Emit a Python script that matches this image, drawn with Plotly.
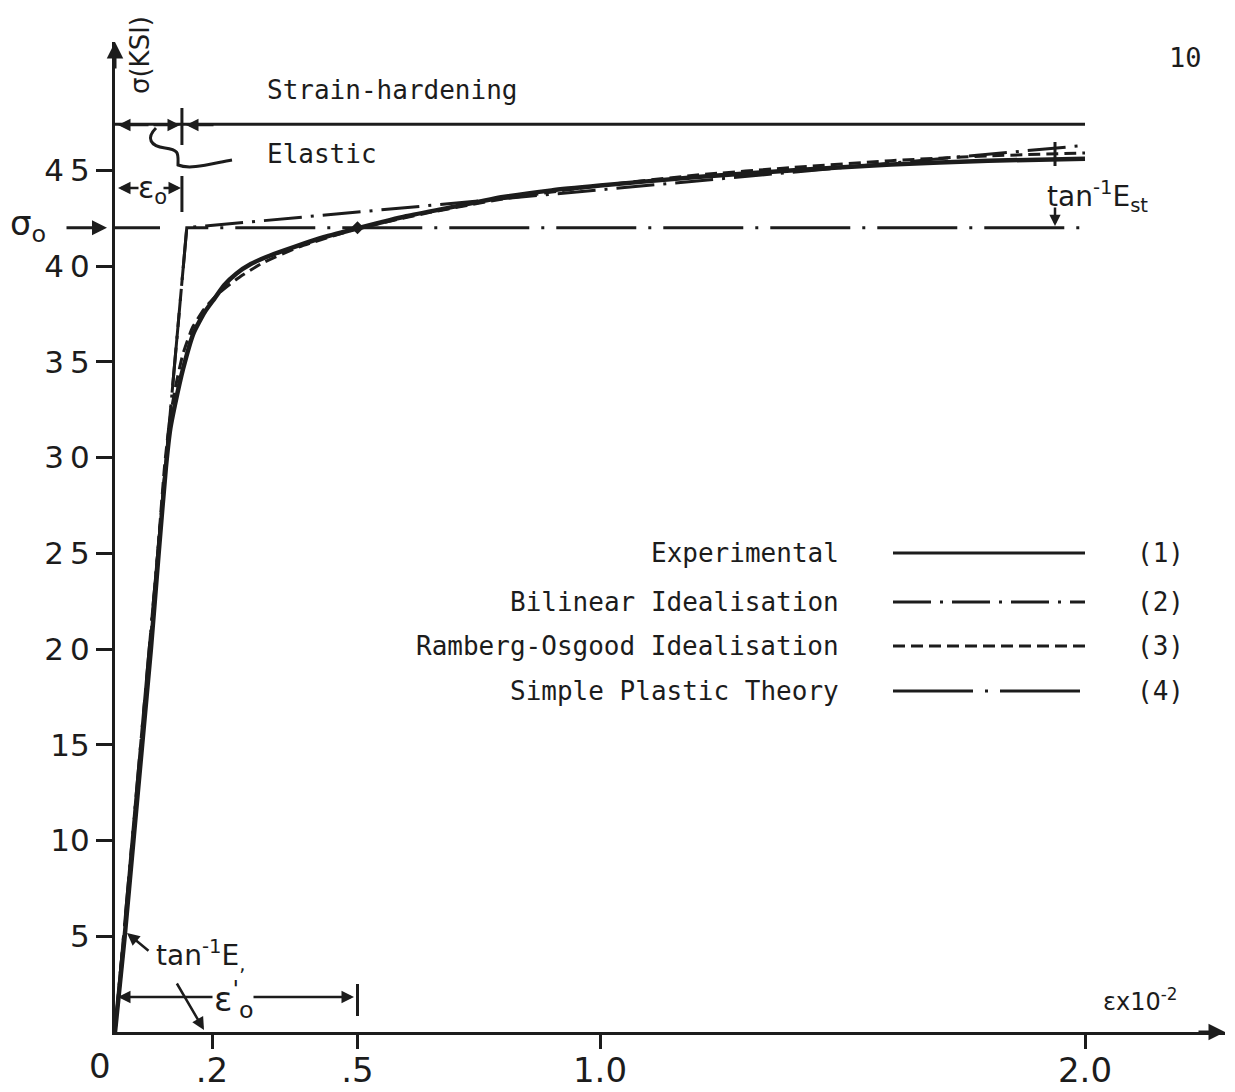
import plotly.graph_objects as go

# Stress-strain data: strain in units of 1e-2, stress in ksi
EPS_EXP = [0.000, 0.020, 0.038, 0.056, 0.074, 0.090, 0.105, 0.114, 0.124, 0.140,
           0.162, 0.185, 0.205, 0.225, 0.250, 0.280, 0.320, 0.370, 0.430, 0.505,
           0.600, 0.700, 0.800, 0.900, 1.000, 1.200, 1.400, 1.600, 1.800, 2.000]
SIG_EXP = [0.0, 5.0, 10.0, 15.0, 20.0, 25.0, 29.5, 31.5, 32.8, 34.6,
           36.5, 37.6, 38.3, 39.0, 39.6, 40.1, 40.55, 41.0, 41.5, 42.0,
           42.6, 43.1, 43.6, 43.95, 44.2, 44.65, 45.0, 45.3, 45.5, 45.6]

EPS_RO = [0.000, 0.020, 0.037, 0.055, 0.072, 0.088, 0.102, 0.112, 0.124, 0.140,
          0.160, 0.185, 0.215, 0.250, 0.300, 0.380, 0.500, 0.650, 0.800, 1.000,
          1.200, 1.400, 1.600, 1.800, 2.000]
SIG_RO = [0.0, 5.0, 10.0, 15.0, 20.0, 25.0, 29.5, 31.8, 33.6, 35.4,
          36.8, 37.8, 38.6, 39.3, 40.1, 41.0, 41.95, 42.8, 43.5, 44.2,
          44.75, 45.15, 45.5, 45.75, 45.9]

EPS_BI = [0.0, 0.148, 2.0]
SIG_BI = [0.0, 42.0, 46.3]

EPS_SP = [0.0, 0.148, 2.0]
SIG_SP = [0.0, 42.0, 42.0]

SIGMA0 = 42.0        # yield stress
EPS0 = 0.148         # yield strain
EPS0_PRIME = 0.5     # offset strain
SIG_LIMIT = 47.4     # strain-hardening level line
EPS_MAX = 2.0

Y_TICKS = [5, 10, 15, 20, 25, 30, 35, 40, 45]
Y_TICKTEXT = ["5", "10", "15", "2\u20090", "2\u20095", "3\u20090", "3\u20095", "4\u20090", "4\u20095"]
X_TICKS = [0.2, 0.5, 1.0, 2.0]
X_TICKTEXT = [".2", ".5", "1.0", "2.0"]

LEGEND_NAMES = ["Experimental", "Bilinear Idealisation",
                "Ramberg-Osgood Idealisation", "Simple Plastic Theory"]
LEGEND_TAGS = ["(1)", "(2)", "(3)", "(4)"]

INK = "#1c1c1c"
MONO = "DejaVu Sans Mono"
HAND = "DejaVu Sans"

W, H = 1235, 1092
ML, MR, MT, MB = 115, 10, 42, 60
XSCALE = 485.0   # px per unit strain
YSCALE = 19.15   # px per ksi
X_MAX = (W - ML - MR) / XSCALE
Y_MAX = (H - MT - MB) / YSCALE
PW, PH = W - ML - MR, H - MT - MB


def dx(p):
    return (p - ML) / XSCALE


def dy(p):
    return (H - MB - p) / YSCALE


def paper_x(p):
    return (p - ML) / PW


def paper_y(p):
    return (H - MB - p) / PH


DASH_BI = "38px,9px,3px,9px"
DASH_RO = "12px,6px"
DASH_SP = "80px,12px,3px,12px"

fig = go.Figure()

fig.add_trace(go.Scatter(x=EPS_SP, y=SIG_SP, mode="lines",
                         line=dict(color=INK, width=3, dash=DASH_SP), name=LEGEND_NAMES[3]))
fig.add_trace(go.Scatter(x=EPS_BI, y=SIG_BI, mode="lines",
                         line=dict(color=INK, width=3, dash=DASH_BI), name=LEGEND_NAMES[1]))
fig.add_trace(go.Scatter(x=EPS_RO, y=SIG_RO, mode="lines",
                         line=dict(color=INK, width=3, dash=DASH_RO, shape="spline", smoothing=0.5),
                         name=LEGEND_NAMES[2]))
fig.add_trace(go.Scatter(x=EPS_EXP, y=SIG_EXP, mode="lines",
                         line=dict(color=INK, width=4.5, shape="spline", smoothing=0.5),
                         name=LEGEND_NAMES[0]))
fig.add_trace(go.Scatter(x=[EPS0_PRIME], y=[SIGMA0], mode="markers",
                         marker=dict(symbol="diamond", size=10, color=INK), showlegend=False))

shapes = []
annotations = []


def seg(x0, y0, x1, y1, width=3, dash=None):
    line = dict(color=INK, width=width)
    if dash:
        line["dash"] = dash
    shapes.append(dict(type="line", xref="x", yref="y",
                       x0=x0, y0=y0, x1=x1, y1=y1, line=line))


def arrow(tip_px, tail_px, width=2.5, size=1.0):
    annotations.append(dict(x=dx(tip_px[0]), y=dy(tip_px[1]), xref="x", yref="y",
                            ax=tail_px[0] - tip_px[0], ay=tail_px[1] - tip_px[1],
                            text="", showarrow=True, arrowhead=2, arrowsize=size,
                            arrowwidth=width, arrowcolor=INK))


def label(px, py, text, size=26, family=MONO, xanchor="center", angle=0):
    annotations.append(dict(x=paper_x(px), y=paper_y(py), xref="paper", yref="paper",
                            text=text, showarrow=False, xanchor=xanchor, yanchor="middle",
                            textangle=angle, font=dict(family=family, size=size, color=INK)))


# strain-hardening level line with elastic range marks
seg(0, SIG_LIMIT, EPS_MAX, SIG_LIMIT)
seg(EPS0 - 0.01, dy(108), EPS0 - 0.01, dy(145))
arrow((118, 125), (150, 125))
arrow((180, 125), (152, 125))
arrow((186, 125), (215, 125))
shapes.append(dict(type="path", xref="x", yref="y", line=dict(color=INK, width=3),
                   path="M {},{} C {},{} {},{} {},{} S {},{} {},{} C {},{} {},{} {},{}".format(
                       dx(156), dy(128), dx(146), dy(138), dx(150), dy(146), dx(165), dy(148),
                       dx(178), dy(154), dx(178), dy(165),
                       dx(190), dy(170), dx(210), dy(164), dx(232), dy(160))))
label(265, 90, "Strain-hardening", xanchor="left")
label(265, 154, "Elastic", xanchor="left")
label(1185, 58, "10", size=27)

# yield strain dimension
seg(EPS0 - 0.01, dy(176), EPS0 - 0.01, dy(212))
arrow((118, 188), (140, 188))
arrow((181, 188), (162, 188))
label(152, 190, "ε<sub>o</sub>", size=30, family=HAND)

# yield stress marker
seg(0, SIGMA0, dx(160), SIGMA0)
annotations.append(dict(x=0, y=SIGMA0, xref="x", yref="y", ax=-50, ay=0, text="",
                        showarrow=True, arrowhead=2, arrowwidth=3, arrowcolor=INK, standoff=8))
label(28, 226, "σ<sub>o</sub>", size=34, family=HAND)

# initial modulus and offset strain
label(200, 955, "tan<sup>-1</sup>E<sub>,</sub>", size=28, family=HAND)
arrow((127, 933), (150, 952))
arrow((204, 1030), (176, 982))
seg(EPS0_PRIME, dy(984), EPS0_PRIME, dy(1016))
arrow((118, 997), (214, 997))
arrow((354, 997), (252, 997))
label(234, 999, "ε<sup>'</sup><sub>o</sub>", size=34, family=HAND)

# strain-hardening modulus
label(1097, 196, "tan<sup>-1</sup>E<sub>st</sub>", size=28, family=HAND)
arrow((1055, 226), (1055, 206), width=2.5, size=0.9)
seg(dx(1055), dy(142), dx(1055), dy(166), width=3)

# legend
LEG_Y = [553, 602, 646, 691]
LEG_DASH = [None, DASH_BI, DASH_RO, DASH_SP]
for name, tag, yy, dash in zip(LEGEND_NAMES, LEGEND_TAGS, LEG_Y, LEG_DASH):
    label(841, yy, name, size=26, xanchor="right")
    seg(dx(893), dy(yy), dx(1085), dy(yy), width=3, dash=dash)
    label(1160, yy, tag, size=26)

# axis titles and origin
label(140, 55, "σ(KSI)", size=26, family=HAND, angle=-90)
label(1140, 1000, "εx10<sup>-2</sup>", size=24, family=HAND)
label(100, 1066, "0", size=34, family=HAND)

# axis arrowheads
annotations.append(dict(x=0, y=Y_MAX, xref="x", yref="y", ax=0, ay=28, text="",
                        showarrow=True, arrowhead=2, arrowsize=1.1, arrowwidth=3, arrowcolor=INK))
annotations.append(dict(x=X_MAX, y=0, xref="x", yref="y", ax=-28, ay=0, text="",
                        showarrow=True, arrowhead=2, arrowsize=1.1, arrowwidth=3, arrowcolor=INK))

fig.update_layout(
    width=W, height=H,
    margin=dict(l=ML, r=MR, t=MT, b=MB, pad=0, autoexpand=False),
    paper_bgcolor="white", plot_bgcolor="white",
    showlegend=False,
    shapes=shapes, annotations=annotations,
    xaxis=dict(range=[0, X_MAX], showgrid=False, zeroline=False, showline=True,
               automargin=False,
               linecolor=INK, linewidth=3, ticks="outside", ticklen=14, tickwidth=3,
               tickcolor=INK, tickvals=X_TICKS, ticktext=X_TICKTEXT, ticklabelstandoff=-8,
               tickfont=dict(family=HAND, size=34, color=INK)),
    yaxis=dict(range=[0, Y_MAX], showgrid=False, zeroline=False, showline=True,
               automargin=False,
               linecolor=INK, linewidth=3, ticks="outside", ticklen=16, tickwidth=3,
               tickcolor=INK, tickvals=Y_TICKS, ticktext=Y_TICKTEXT,
               tickfont=dict(family=HAND, size=31, color=INK)),
)

fig.write_html("out.html")
